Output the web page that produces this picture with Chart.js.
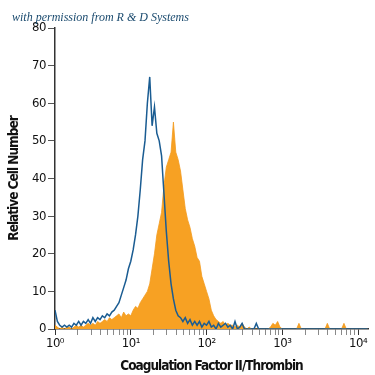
<!DOCTYPE html>
<html>
<head>
<meta charset="utf-8">
<script src="https://cdn.jsdelivr.net/npm/chart.js@4.4.1/dist/chart.umd.min.js"></script>
<style>
  html, body { margin: 0; padding: 0; background: #fff; }
  #wrap { position: relative; width: 375px; height: 375px; }
  #note { position: absolute; left: 12px; top: 10px; font: italic 12px "Liberation Serif", serif; color: #1a4a6e; white-space: nowrap; }
</style>
</head>
<body>
<div id="wrap">
  <canvas id="c" width="375" height="375"></canvas>
  <div id="note">with permission from R &amp; D Systems</div>
</div>
<script>
// Histogram bins: 32 bins per decade, starting at 10^0
const binsPerDecade = 32;
const xTickLabels = ['10\u2070', '10\u00b9', '10\u00b2', '10\u00b3', '10\u2074'];
const yTicks = [0, 10, 20, 30, 40, 50, 60, 70, 80];

// Isotype control (blue outline)
const controlCounts = [
  5, 2, 1, 0.5, 1, 0.5, 1, 0.5, 1.5, 1,
  2, 1, 2, 1.5, 2.5, 1.5, 3, 2, 3, 2.5,
  3.5, 3, 4, 3.5, 4.5, 5, 6, 7, 9, 11,
  13, 16, 18, 21, 25, 30, 37, 45, 50, 60,
  67, 54, 59, 52, 50, 46, 36, 26, 18, 12,
  8, 5, 3.5, 3, 2, 3, 1.5, 2.5, 1, 2,
  1, 2, 0.5, 1.5, 1, 2, 0.5, 1, 0, 1.5,
  0.5, 1, 1.5, 0.5, 1, 0, 2, 0, 0.5, 1.5,
  0, 0, 0, 0, 0, 1.5, 0, 0, 0, 0,
  0, 0, 0, 0, 0, 0, 0, 0, 0, 0,
  0, 0, 0, 0, 0, 0, 0, 0, 0, 0,
  0, 0, 0, 0, 0, 0, 0, 0, 0, 0,
  0, 0, 0, 0, 0, 0, 0, 0, 0, 0,
  0, 0, 0
];

// Coagulation Factor II/Thrombin stained (orange filled)
const stainedCounts = [
  1, 0.5, 0, 0.5, 0, 0.5, 0.5, 0, 0.5, 1,
  0.5, 1, 0.5, 1, 1.5, 1, 1.5, 1, 2, 1.5,
  2, 2.5, 2, 3, 2.5, 3, 3.5, 4, 3, 4.5,
  3.5, 4, 3.5, 5, 6, 5.5, 7, 8, 9, 10,
  12, 16, 20, 25, 28, 31, 38, 43, 45, 47,
  55, 47, 45, 42, 37, 32, 29, 27, 24, 22,
  19, 18, 14, 12, 10, 8, 5, 3.5, 2.5, 2,
  1.5, 2, 1, 1.5, 1, 1, 0.5, 1, 0.5, 1.5,
  0.5, 0, 0.5, 0, 0, 0, 0, 0, 0, 0,
  0, 0.5, 1.5, 1, 2, 0.5, 0, 0, 0, 0,
  0, 0, 0, 1.5, 0, 0, 0, 0, 0, 0,
  0, 0, 0, 0, 0, 1.5, 0, 0, 0, 0,
  0, 0, 1.5, 0, 0, 0, 0, 0, 0, 0,
  0, 0, 0
];

const toPoints = arr => arr.map((y, i) => ({ x: Math.pow(10, i / binsPerDecade), y }));

const xMax = Math.pow(10, 4.13);
const condensed = '"DejaVu Sans Condensed", "DejaVu Sans", sans-serif';

// Tighter letter spacing for axis titles and tick labels (condensed look)
function tighten(scale) {
  if (scale._tight) return;
  scale._tight = true;
  const t = scale.drawTitle, l = scale.drawLabels;
  scale.drawTitle = function (...a) { const c = this.ctx; c.save(); c.letterSpacing = '-1px'; t.apply(this, a); c.restore(); };
  scale.drawLabels = function (...a) { const c = this.ctx; c.save(); c.letterSpacing = '-0.5px'; l.apply(this, a); c.restore(); };
}

new Chart(document.getElementById('c'), {
  type: 'line',
  data: {
    datasets: [
      {
        label: 'Stained',
        data: toPoints(stainedCounts),
        borderColor: '#f39a1e',
        backgroundColor: '#f7a123',
        borderWidth: 0.8,
        fill: 'origin',
        pointRadius: 0,
        tension: 0,
        order: 2
      },
      {
        label: 'Control',
        data: toPoints(controlCounts),
        borderColor: '#1a5c92',
        borderWidth: 1.5,
        fill: false,
        pointRadius: 0,
        tension: 0,
        order: 1
      }
    ]
  },
  options: {
    responsive: false,
    animation: false,
    layout: { padding: { top: 28, right: 7, left: 0, bottom: 0 } },
    plugins: { legend: { display: false }, tooltip: { enabled: false }, title: { display: false } },
    scales: {
      x: {
        type: 'logarithmic',
        min: 1,
        max: xMax,
        afterFit: s => { s.height = 46; tighten(s); },
        afterBuildTicks: s => {
          const t = [];
          for (let d = 0; d < 4; d++) {
            for (let m = 1; m <= 9; m++) t.push({ value: m * Math.pow(10, d), major: m === 1 });
          }
          t.push({ value: 10000, major: true });
          s.ticks = t;
        },
        grid: {
          drawOnChartArea: false,
          drawTicks: true,
          tickLength: 6,
          tickColor: ctx => (ctx.tick && ctx.tick.major) ? '#333' : '#8a8a8a',
          lineWidth: 1
        },
        border: { display: true, color: '#333', width: 1.5 },
        ticks: {
          autoSkip: false,
          maxRotation: 0,
          padding: 1,
          color: '#111',
          font: { family: condensed, size: 13 },
          callback: function (v) {
            const e = Math.log10(v);
            if (Math.abs(e - Math.round(e)) < 1e-9) return xTickLabels[Math.round(e)];
            return '';
          }
        },
        title: {
          display: true,
          text: 'Coagulation Factor II/Thrombin',
          color: '#111',
          font: { family: condensed, size: 13.5, weight: 'bold' },
          padding: { top: 3, bottom: 0 }
        }
      },
      y: {
        min: 0,
        max: 80,
        afterFit: s => { s.width = 55; tighten(s); },
        afterBuildTicks: s => { s.ticks = yTicks.map(v => ({ value: v })); },
        grid: {
          drawOnChartArea: false,
          drawTicks: true,
          tickLength: 7,
          tickColor: '#555',
          lineWidth: 1
        },
        border: { display: true, color: '#333', width: 1.5 },
        ticks: {
          padding: 2,
          color: '#111',
          font: { family: condensed, size: 13 }
        },
        title: {
          display: true,
          text: 'Relative Cell Number',
          color: '#111',
          font: { family: condensed, size: 13.5, weight: 'bold' },
          padding: { top: 6, bottom: 0 }
        }
      }
    }
  }
});
</script>
</body>
</html>
